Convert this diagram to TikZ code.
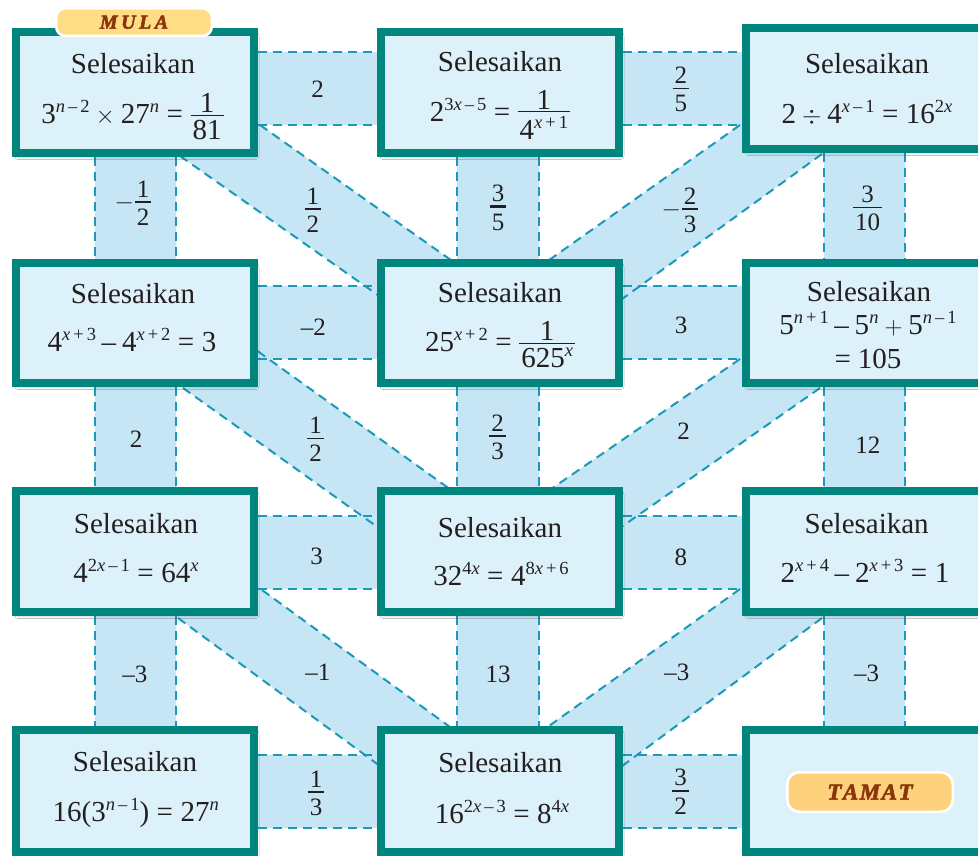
\documentclass[tikz,border=0pt]{standalone}
\usepackage{fontspec}
\setmainfont{Liberation Serif}
\newfontfamily\badgefont[FakeBold=2.5]{Liberation Serif}
\usetikzlibrary{calc,shadows.blur}

\definecolor{teal8}{HTML}{00867C}
\definecolor{boxfill}{HTML}{DDF1FB}
\definecolor{bandfill}{HTML}{C6E6F6}
\definecolor{dashc}{HTML}{1A9AB8}
\definecolor{ink}{HTML}{231F20}
\definecolor{mulafill}{HTML}{FFDD86}
\definecolor{tamatfill}{HTML}{FED27C}
\definecolor{badgeink}{HTML}{8A360C}

% superscript, spaced signs inside exponents, operators
\newcommand\ex[1]{\raisebox{11pt}{\fontsize{18.5}{19}\selectfont #1}}
\newcommand\xm{\hspace{3pt}--\hspace{3pt}}
\newcommand\xp{\hspace{3pt}+\hspace{3pt}}
\newcommand\op[1]{\hspace{6pt}\ensuremath{#1}\hspace{6pt}}
\newcommand\eq{\hspace{7.5pt}=\hspace{7.5pt}}
\newcommand\mn{\hspace{5.5pt}--\hspace{6pt}}
% fraction: gap above bar, gap below bar, bar thickness, numerator, denominator
\newcommand\fr[5]{\ensuremath{\vcenter{\hbox{\setbox0=\hbox{#4}\setbox2=\hbox{#5}%
  \dimen0=\wd0 \ifdim\wd2>\dimen0 \dimen0=\wd2\fi \advance\dimen0 by 4pt
  \vbox{\offinterlineskip\hbox to\dimen0{\hss\box0\hss}\kern#1\hrule height #3\kern#2\hbox to\dimen0{\hss\box2\hss}}}}}}
\newcommand\boxfr[2]{\fr{2pt}{4pt}{1.3pt}{#1}{#2}}
\newcommand\labfr[2]{\fr{4pt}{6pt}{1.4pt}{#1}{#2}}

% diagonal link: upper edge #1-#2, lower edge #3-#4, both run on under the boxes
\newcommand\diagfill[4]{\fill[band] ($(#1)!-30pt!(#2)$) -- ($(#2)!-30pt!(#1)$) -- ($(#4)!-30pt!(#3)$) -- ($(#3)!-30pt!(#4)$) -- cycle;}
\newcommand\diagedge[2]{\draw[dashline] ($(#1)!-30pt!(#2)$) -- ($(#2)!-30pt!(#1)$);}

\pgfdeclarelayer{bg}
\pgfsetlayers{bg,main}

\begin{document}
\begin{tikzpicture}[x=1pt,y=-1pt,
  panel/.style={draw=teal8, line width=8pt, fill=boxfill, inner sep=0pt,
    minimum width=238pt, minimum height=121pt,
    blur shadow={shadow xshift=2pt, shadow yshift=-3.5pt, shadow blur radius=3pt, shadow opacity=30}},
  band/.style={fill=bandfill},
  dashline/.style={draw=dashc, line width=2pt, dash pattern=on 9pt off 6pt},
  ttl/.style={anchor=base, inner sep=0pt, text=ink, font=\fontsize{29}{30}\selectfont},
  fml/.style={anchor=base, inner sep=0pt, text=ink, font=\fontsize{29}{30}\selectfont},
  lab/.style={anchor=base, inner sep=0pt, text=ink, font=\fontsize{25}{26}\selectfont},
  labc/.style={anchor=center, inner sep=0pt, text=ink, font=\fontsize{25}{26}\selectfont},
  badge/.style={draw=white, line width=2.5pt, rounded corners=9pt,
    inner sep=0pt, text=badgeink},
]
\useasboundingbox (0,0) rectangle (978,855);
\clip (0,0) rectangle (978,855);

% ---------- boxes ----------
\node[panel] (A1) at (135,92.5) {};
\node[panel] (A2) at (500,92.5) {};
\node[panel, minimum width=254pt] (A3) at (873,88.5) {};
\node[panel, minimum height=120pt] (B1) at (135,323) {};
\node[panel, minimum height=120pt] (B2) at (500,323) {};
\node[panel, minimum height=120pt, minimum width=254pt] (B3) at (873,323) {};
\node[panel] (C1) at (135,551.5) {};
\node[panel] (C2) at (500,551.5) {};
\node[panel, minimum width=254pt] (C3) at (873,551.5) {};
\node[panel, minimum height=122pt] (D1) at (135,791) {};
\node[panel, minimum height=122pt] (D2) at (500,791) {};
\node[panel, minimum height=122pt, minimum width=254pt] (D3) at (873,791) {};

% ---------- links ----------
\coordinate (L1us) at (260,125); \coordinate (L1ue) at (448,258);
\coordinate (L1ds) at (180,156); \coordinate (L1de) at (365,286);
\coordinate (R1us) at (740,125); \coordinate (R1ue) at (552,258);
\coordinate (R1ds) at (822,154); \coordinate (R1de) at (640,286);
\coordinate (L2us) at (270,360); \coordinate (L2ue) at (447,487);
\coordinate (L2ds) at (183,388); \coordinate (L2de) at (362,516);
\coordinate (R2us) at (740,359); \coordinate (R2ue) at (554,487);
\coordinate (R2ds) at (820,388); \coordinate (R2de) at (637,516);
\coordinate (L3us) at (262,590); \coordinate (L3ue) at (450,727);
\coordinate (L3ds) at (178,618); \coordinate (L3de) at (365,755);
\coordinate (R3us) at (740,589); \coordinate (R3ue) at (549,726);
\coordinate (R3ds) at (822,618); \coordinate (R3de) at (637,755);

\begin{pgfonlayer}{bg}
  \fill[white] (0,0) rectangle (978,855);
  % horizontal links
  \foreach \l/\r/\ya/\yb in {A1/A2/52/125, A2/A3/52/125, B1/B2/286/359, B2/B3/286/359,
                              C1/C2/516/589, C2/C3/516/589, D1/D2/755/828, D2/D3/755/828}{
    \fill[band] (\l.east |- 0,\ya) rectangle (\r.west |- 0,\yb);
  }
  % vertical links
  \foreach \u/\d/\xa/\xb in {A1/B1/95/176, B1/C1/95/176, C1/D1/95/176,
                              A2/B2/457/539, B2/C2/457/539, C2/D2/457/539,
                              A3/B3/824/905, B3/C3/824/905, C3/D3/824/905}{
    \fill[band] (\u.south -| \xa,0) rectangle (\d.north -| \xb,0);
  }
  % diagonal links
  \diagfill{L1us}{L1ue}{L1ds}{L1de}
  \diagfill{R1us}{R1ue}{R1ds}{R1de}
  \diagfill{L2us}{L2ue}{L2ds}{L2de}
  \diagfill{R2us}{R2ue}{R2ds}{R2de}
  \diagfill{L3us}{L3ue}{L3ds}{L3de}
  \diagfill{R3us}{R3ue}{R3ds}{R3de}
  % dashed edges
  \foreach \l/\r/\ya/\yb in {A1/A2/52/125, A2/A3/52/125, B1/B2/286/359, B2/B3/286/359,
                              C1/C2/516/589, C2/C3/516/589, D1/D2/755/828, D2/D3/755/828}{
    \draw[dashline] (\l.east |- 0,\ya) -- (\r.west |- 0,\ya);
    \draw[dashline] (\l.east |- 0,\yb) -- (\r.west |- 0,\yb);
  }
  \foreach \u/\d/\xa/\xb in {A1/B1/95/176, B1/C1/95/176, C1/D1/95/176,
                              A2/B2/457/539, B2/C2/457/539, C2/D2/457/539,
                              A3/B3/824/905, B3/C3/824/905, C3/D3/824/905}{
    \draw[dashline] (\u.south -| \xa,0) -- (\d.north -| \xa,0);
    \draw[dashline] (\u.south -| \xb,0) -- (\d.north -| \xb,0);
  }
  \diagedge{L1us}{L1ue} \diagedge{L1ds}{L1de}
  \diagedge{R1us}{R1ue} \diagedge{R1ds}{R1de}
  \diagedge{L2us}{L2ue} \diagedge{L2ds}{L2de}
  \diagedge{R2us}{R2ue} \diagedge{R2ds}{R2de}
  \diagedge{L3us}{L3ue} \diagedge{L3ds}{L3de}
  \diagedge{R3us}{R3ue} \diagedge{R3ds}{R3de}
\end{pgfonlayer}

% ---------- badges ----------
\node[badge, fill=mulafill, minimum width=155.5pt, minimum height=27.5pt,
      font=\badgefont\bfseries\itshape\fontsize{20}{20}\selectfont] (mula) at (134,22.2) {M\kern3.5pt U\kern3.5pt L\kern3.5pt A};
\node[badge, fill=tamatfill, rounded corners=12pt, minimum width=165.5pt, minimum height=39.5pt,
      font=\badgefont\bfseries\itshape\fontsize{23}{23}\selectfont] (tamat) at (870,792) {T\kern1.5pt A\kern1.5pt M\kern1.5pt A\kern1.5pt T};

% ---------- box texts ----------
\node[ttl] (tA1) at (133,73) {Selesaikan};
\node[fml] (fA1) at (132.5,123) {3\ex{\textit{n}\xm 2}\op{\times}27\ex{\textit{n}}\eq\boxfr{1}{81}};
\node[ttl] (tA2) at (500,71) {Selesaikan};
\node[fml] (fA2) at (500,121) {2\ex{3\textit{x}\xm 5}\eq\boxfr{1}{4\ex{\textit{x}\xp 1}}};
\node[ttl] (tA3) at (867,73) {Selesaikan};
\node[fml] (fA3) at (867,123.3) {2\op{\div}4\ex{\textit{x}\xm 1}\eq 16\ex{2\textit{x}}};

\node[ttl] (tB1) at (133,303) {Selesaikan};
\node[fml] (fB1) at (132,351.7) {4\ex{\textit{x}\xp 3}\mn 4\ex{\textit{x}\xp 2}\eq 3};
\node[ttl] (tB2) at (500,302) {Selesaikan};
\node[fml] (fB2) at (500,351) {25\ex{\textit{x}\xp 2}\eq\boxfr{1}{625\ex{\textit{x}}}};
\node[ttl] (tB3) at (869,301) {Selesaikan};
\node[fml] (fB3) at (868,334) {5\ex{\textit{n}\xp 1}\mn 5\ex{\textit{n}}\op{+}5\ex{\textit{n}\xm 1}};
\node[fml] (gB3) at (868,368.3) {=\hspace{7pt}105};

\node[ttl] (tC1) at (136,533.3) {Selesaikan};
\node[fml] (fC1) at (136,582.7) {4\ex{2\textit{x}\xm 1}\eq 64\ex{\textit{x}}};
\node[ttl] (tC2) at (500,537) {Selesaikan};
\node[fml] (fC2) at (501,585) {32\ex{4\textit{x}}\eq 4\ex{8\textit{x}\xp 6}};
\node[ttl] (tC3) at (866.7,533) {Selesaikan};
\node[fml] (fC3) at (865,582.7) {2\ex{\textit{x}\xp 4}\mn 2\ex{\textit{x}\xp 3}\eq 1};

\node[ttl] (tD1) at (135,771) {Selesaikan};
\node[fml] (fD1) at (135.7,821.7) {16(3\ex{\textit{n}\xm 1})\eq 27\ex{\textit{n}}};
\node[ttl] (tD2) at (500.3,772.7) {Selesaikan};
\node[fml] (fD2) at (502,823.3) {16\ex{2\textit{x}\xm 3}\eq 8\ex{4\textit{x}}};

% ---------- link labels ----------
\node[lab]  (h1a) at (317.5,97) {2};
\node[labc] (h1b) at (680.8,89.5) {\labfr{2}{5}};
\node[labc] (v1a) at (133,203) {$-$\hspace{1pt}\labfr{1}{2}};
\node[labc] (d1a) at (312.8,210) {\labfr{1}{2}};
\node[labc] (v2a) at (498,207.5) {\fr{4pt}{6pt}{2.4pt}{3}{5}};
\node[labc] (d1b) at (680,210) {$-$\hspace{1pt}\labfr{2}{3}};
\node[labc] (v3a) at (867.5,208.3) {\labfr{3}{10}};

\node[lab]  (h2a) at (313.3,335) {--2};
\node[lab]  (h2b) at (681,333.3) {3};
\node[lab]  (v1b) at (136,447.3) {2};
\node[labc] (d2a) at (315.5,439.7) {\labfr{1}{2}};
\node[labc] (v2b) at (497.5,437.2) {\labfr{2}{3}};
\node[lab]  (d2b) at (683.7,439.3) {2};
\node[lab]  (v3b) at (867.8,453.3) {12};

\node[lab]  (h3a) at (316.7,564.3) {3};
\node[lab]  (h3b) at (680.8,565.7) {8};
\node[lab]  (v1c) at (134.8,682.3) {--3};
\node[lab]  (d3a) at (317.8,680.7) {--1};
\node[lab]  (v2c) at (498,682) {13};
\node[lab]  (d3b) at (676.8,680.7) {--3};
\node[lab]  (v3c) at (866.7,681.7) {--3};

\node[labc] (h4a) at (316,793) {\labfr{1}{3}};
\node[labc] (h4b) at (680.5,791.7) {\labfr{3}{2}};
\end{tikzpicture}
\end{document}
